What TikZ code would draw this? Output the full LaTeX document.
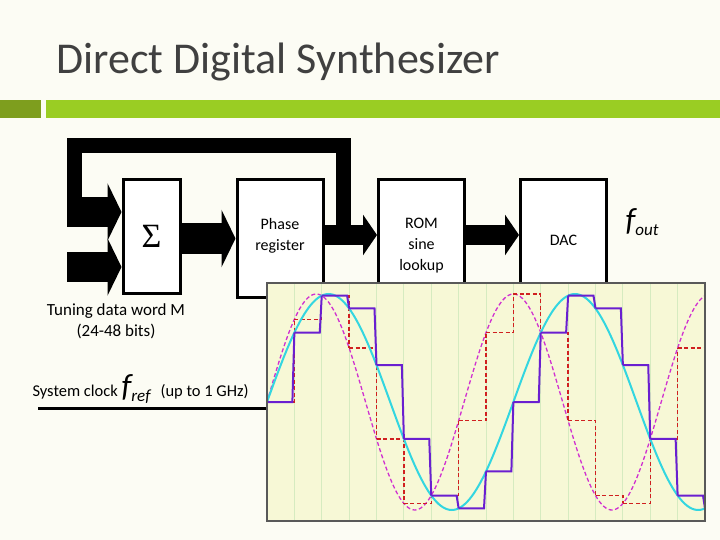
\documentclass[tikz,border=0pt]{standalone}
\usepackage{fontspec}
\setmainfont{Carlito}
\newfontfamily\sigmafont{Liberation Serif}
\usetikzlibrary{arrows.meta}
\definecolor{paper}{HTML}{FCFCF4}
\definecolor{barL}{HTML}{7E9E1E}
\definecolor{barR}{HTML}{9ACD23}
\definecolor{plotbg}{HTML}{F7F8D6}
\definecolor{gridg}{HTML}{D6EBC0}
\definecolor{sinecol}{HTML}{33D6E0}
\definecolor{stepcol}{HTML}{6A1FD0}
\definecolor{aliascol}{HTML}{D030D0}
\definecolor{redstep}{HTML}{D02020}
\tikzset{
  block/.style={draw, line width=3, fill=white, align=center, inner sep=0},
  bus/.style={line width=15},
  fatarrow/.style={line width=30, -{Triangle[width=57,length=14]}},
  lbl/.style={font=\fontsize{16}{21}\selectfont, align=center},
}
\newcommand{\bigf}[1]{{\fontsize{32}{32}\selectfont\itshape f}\raisebox{-5pt}{\fontsize{17}{17}\selectfont\itshape #1}}
\begin{document}
\begin{tikzpicture}[x=1pt,y=-1pt]
\useasboundingbox (0,0) rectangle (720,540);
\fill[paper] (0,0) rectangle (720,540);

% Title and bars
\node[anchor=base west, text=black!75, font=\fontsize{44}{48}\selectfont] (title) at (53,74) {Direct Digital Synthesizer};
\fill[barL] (0,100) rectangle (41,118);
\fill[barR] (46,100) rectangle (720,118);

% Blocks
\node[block, minimum width=57, minimum height=113] (sum) at (151.5,236.5) {};
\node[block, minimum width=86, minimum height=117] (phase) at (280,238.5) {};
\node[block, minimum width=86, minimum height=117] (rom) at (421.5,238.5) {};
\node[block, minimum width=86, minimum height=117] (dac) at (563.5,238.5) {};
\node[font=\fontsize{34}{34}\selectfont\sigmafont] (sumtxt) at (151.5,236) {Σ};
\node[lbl] (phasetxt) at (280,236) {Phase\\register};
\node[lbl] (romtxt) at (421.5,246) {ROM\\sine\\lookup};
\node[lbl] (dactxt) at (563.5,240) {DAC};
\node[anchor=west] (fout) at (622,222) {\bigf{out}};

% Inputs and feedback bus
\coordinate (in1) at (67,212);
\coordinate (in2) at (67,267);
\coordinate (fbtap) at (343,235);
\coordinate (fbleft) at (74.5,146);
\draw[bus] (fbtap) |- (fbleft) -- (fbleft |- in1);
\draw[fatarrow] (in1) -- (sum.west |- in1);
\draw[fatarrow] (in2) -- (sum.west |- in2);
\draw[fatarrow] (sum.east |- phase.west) -- (phase.west);
\draw[line width=20, -{Triangle[width=40,length=14]}] (phase.east |- fbtap) -- (rom.west |- fbtap);
\draw[line width=20, -{Triangle[width=40,length=14]}] (rom.east |- fbtap) -- (dac.west |- fbtap);

% Input labels
\node[lbl, font=\fontsize{17}{21}\selectfont] (tuning) at (116,321) {Tuning data word M\\(24-48 bits)};
\node[anchor=base west, font=\fontsize{16.5}{18}\selectfont] (clk) at (29,396) {System clock \bigf{ref}\hspace{10pt}(up to 1 GHz)};
\coordinate (clkA) at (38,408);
\coordinate (clkB) at (267,408);
\draw[line width=3] (clkA) -- (clkB);

% Waveform plot
\fill[plotbg] (267,283) rectangle (705,521);
\foreach \k in {1,...,15}
  \draw[gridg, line width=1] ({267+27.375*\k},283) -- ({267+27.375*\k},521);
\draw[aliascol, line width=1.3, dash pattern=on 4pt off 2.5pt]
  plot[domain=0:16, samples=200] ({267+27.375*\x}, {402-108*sin(50*\x)});
\foreach \k in {0,...,15}
  \draw[redstep, line width=1.3, dash pattern=on 4pt off 2.5pt]
    ({267+27.375*\k},{402-108*sin(50*\k)}) -- ({267+27.375*(\k+1)},{402-108*sin(50*\k)})
    -- ({267+27.375*(\k+1)},{402-108*sin(50*(\k+1))});
\draw[sinecol, line width=2]
  plot[domain=0:16, samples=200] ({267+27.375*\x}, {402-108*sin(40*\x)});
\foreach \k in {0,...,15}
  \draw[stepcol, line width=2]
    ({267+27.375*\k},{402-108*sin(40*\k)}) -- ({267+27.375*(\k+1)-2},{402-108*sin(40*\k)})
    -- ({267+27.375*(\k+1)},{402-108*sin(40*(\k+1))});
\draw[gray!70!black, line width=1.5] (267,283) rectangle (705,521);
\end{tikzpicture}
\end{document}
